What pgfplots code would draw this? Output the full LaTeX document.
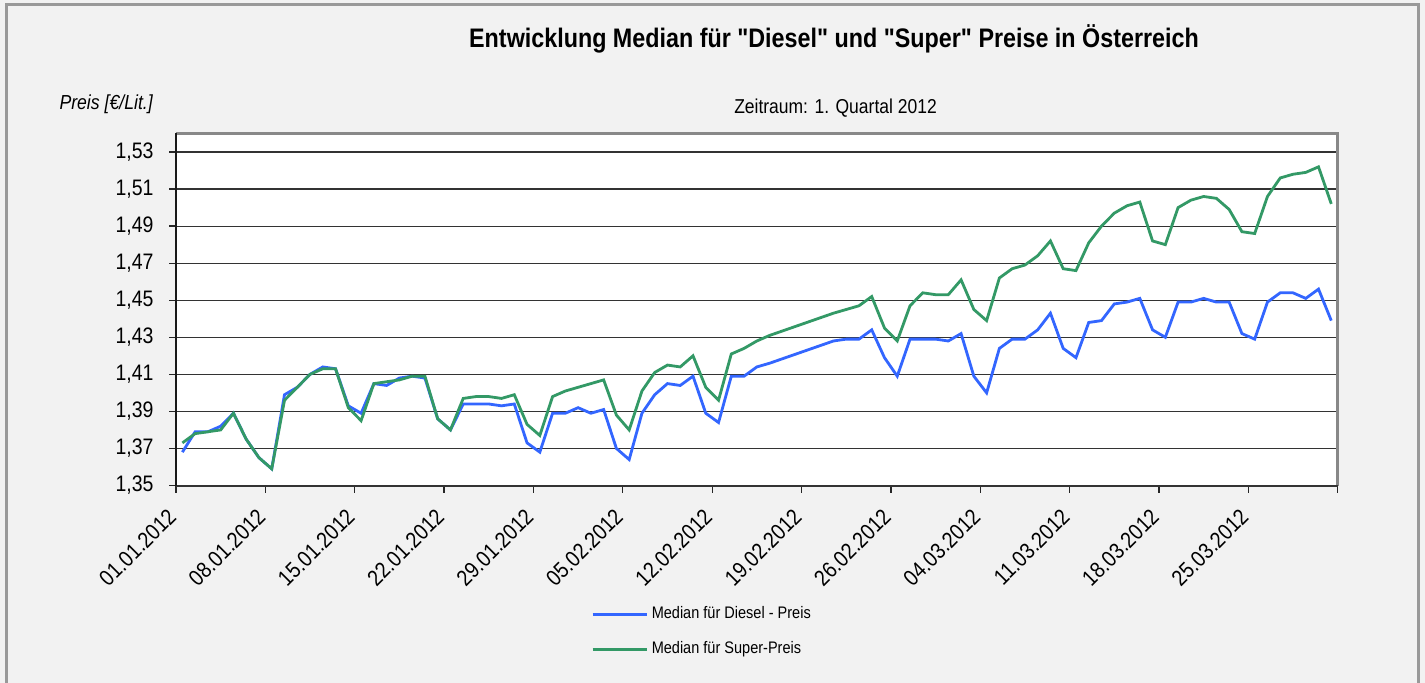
\documentclass[border=0pt]{standalone}
\usepackage{fontspec}
\setmainfont{Liberation Sans}[FakeStretch=0.87]
\newfontfamily\titlefont{Liberation Sans}[FakeStretch=0.87]
\usepackage{pgfplots}
\pgfplotsset{compat=1.18}
\definecolor{bgGray}{HTML}{F2F2F2}
\definecolor{frameGray}{HTML}{999999}
\definecolor{plotFrame}{HTML}{888888}
\definecolor{dieselBlue}{HTML}{3366FF}
\definecolor{superGreen}{HTML}{339966}

% day of quarter (+0.5 = noon), median price in EUR/l
\pgfplotstableread{
x     diesel super
0.5   1.368  1.373
1.5   1.379  1.378
2.5   1.379  1.379
3.5   1.382  1.380
4.5   1.389  1.389
5.5   1.375  1.375
6.5   1.365  1.365
7.5   1.359  1.359
8.5   1.399  1.396
9.5   1.403  1.403
10.5  1.410  1.410
11.5  1.414  1.413
12.5  1.413  1.413
13.5  1.393  1.392
14.5  1.389  1.385
15.5  1.405  1.405
16.5  1.404  1.406
17.5  1.408  1.407
18.5  1.409  1.409
19.5  1.408  1.409
20.5  1.386  1.386
21.5  1.380  1.380
22.5  1.394  1.397
23.5  1.394  1.398
24.5  1.394  1.398
25.5  1.393  1.397
26.5  1.394  1.399
27.5  1.373  1.383
28.5  1.368  1.377
29.5  1.389  1.398
30.5  1.389  1.401
31.5  1.392  1.403
32.5  1.389  1.405
33.5  1.391  1.407
34.5  1.370  1.388
35.5  1.364  1.380
36.5  1.389  1.401
37.5  1.399  1.411
38.5  1.405  1.415
39.5  1.404  1.414
40.5  1.409  1.420
41.5  1.389  1.403
42.5  1.384  1.396
43.5  1.409  1.421
44.5  1.409  1.424
45.5  1.414  1.428
46.5  1.416  1.431
51.5  1.428  1.443
52.5  1.429  1.445
53.5  1.429  1.447
54.5  1.434  1.452
55.5  1.419  1.435
56.5  1.409  1.428
57.5  1.429  1.447
58.5  1.429  1.454
59.5  1.429  1.453
60.5  1.428  1.453
61.5  1.432  1.461
62.5  1.409  1.445
63.5  1.400  1.439
64.5  1.424  1.462
65.5  1.429  1.467
66.5  1.429  1.469
67.5  1.434  1.474
68.5  1.443  1.482
69.5  1.424  1.467
70.5  1.419  1.466
71.5  1.438  1.481
72.5  1.439  1.490
73.5  1.448  1.497
74.5  1.449  1.501
75.5  1.451  1.503
76.5  1.434  1.482
77.5  1.430  1.480
78.5  1.449  1.500
79.5  1.449  1.504
80.5  1.451  1.506
81.5  1.449  1.505
82.5  1.449  1.499
83.5  1.432  1.487
84.5  1.429  1.486
85.5  1.449  1.506
86.5  1.454  1.516
87.5  1.454  1.518
88.5  1.451  1.519
89.5  1.456  1.522
90.5  1.439  1.502
}\prices

\begin{document}
\begin{tikzpicture}
\fill[bgGray] (0pt,0pt) rectangle (1425pt,683pt);
\useasboundingbox (0pt,0pt) rectangle (1425pt,683pt);
\draw[frameGray, line width=3pt] (6.5pt,-2pt) -- (6.5pt,678.5pt) -- (1418pt,678.5pt) -- (1418pt,-2pt);

\node[font=\titlefont\fontsize{26.8}{30}\selectfont\bfseries, anchor=base] at (834pt,635.7pt)
  {Entwicklung Median für "Diesel" und "Super" Preise in Österreich};
\node[font=\fontsize{20.1}{24}\selectfont, anchor=base] at (835.5pt,569.7pt)
  {Zeitraum: 1. Quartal 2012};
\node[font=\fontsize{20.3}{24}\selectfont\itshape, anchor=base west, inner sep=0pt] at (59.3pt,573pt)
  {Preis [€/Lit.]};

\begin{axis}[
    at={(176pt,197.5pt)}, anchor=south west,
    scale only axis, width=1161.7pt, height=352pt,
    xmin=0, xmax=91,
    ymin=1.35, ymax=1.54,
    xtick={0,7,...,91},
    xticklabels={01.01.2012,08.01.2012,15.01.2012,22.01.2012,29.01.2012,05.02.2012,12.02.2012,19.02.2012,26.02.2012,04.03.2012,11.03.2012,18.03.2012,25.03.2012,{}},
    ytick={1.35,1.37,...,1.54},
    scaled y ticks=false,
    yticklabel style={/pgf/number format/.cd, fixed, fixed zerofill, precision=2, use comma, assume math mode=true, /tikz/.cd, xshift=-12pt},
    tick label style={font=\fontsize{22.4}{24}\selectfont},
    xticklabel style={xshift=-1.5pt, yshift=-18pt, rotate=45, anchor=east},
    xtick pos=lower, ytick pos=left,
    tick align=outside,
    major tick length=7pt,
    tick style={black!85, line width=1.3pt},
    ymajorgrids,
    grid style={black!80, line width=1.2pt},
    axis line style={draw=none},
    axis background/.style={fill=white},
    clip=false,
    legend cell align=left,
    legend style={at={(0.3547,-0.417)}, anchor=west, draw=none, fill=none,
      font=\fontsize{16.7}{18}\selectfont,
      nodes={inner sep=0pt, text height=12pt, text depth=4pt},
      row sep=19pt,
      /tikz/every odd column/.append style={column sep=3.7pt}},
    legend image code/.code={\draw[#1] (0pt,0pt) -- (54pt,0pt);},
]
\addplot[dieselBlue, line width=2.8pt] table[x=x, y=diesel] {\prices};
\addlegendentry{Median für Diesel - Preis}
\addplot[superGreen, line width=2.8pt] table[x=x, y=super] {\prices};
\addlegendentry{Median für Super-Preis}

\draw[plotFrame, line width=2.6pt] (rel axis cs:0,1) -- (rel axis cs:1,1) -- (rel axis cs:1,0);
\draw[black!80, line width=2pt] (rel axis cs:1,0) -- (rel axis cs:0,0);
\draw[black!90, line width=2pt] (rel axis cs:0,0) -- (rel axis cs:0,1);
\end{axis}
\end{tikzpicture}
\end{document}
